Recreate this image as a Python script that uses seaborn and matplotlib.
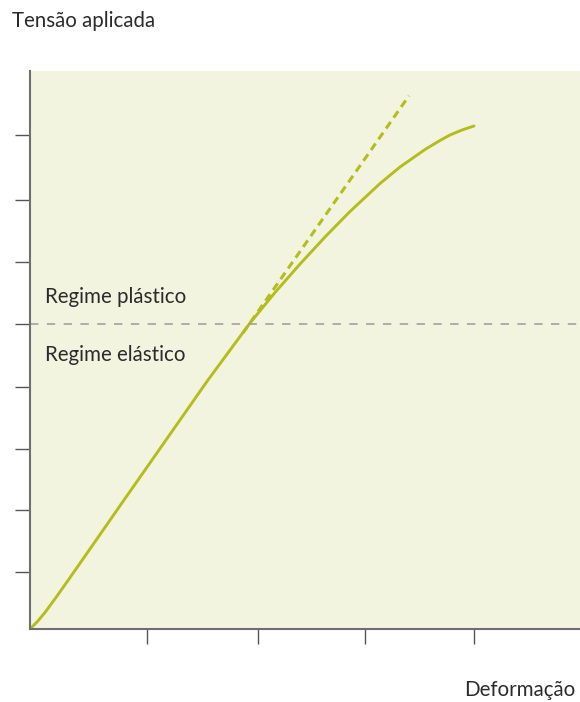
import numpy as np
import pandas as pd
import matplotlib
matplotlib.use('Agg')
import matplotlib.pyplot as plt
import seaborn as sns

# curva tensão x deformação
deform = [0, 0.064, 0.136, 0.236, 0.345, 0.564, 0.845, 1.618, 2.0, 2.227, 2.455,
          2.682, 2.909, 3.182, 3.364, 3.591, 3.727, 3.818, 3.927, 4.036]
tensao = [0, 0.113, 0.266, 0.508, 0.782, 1.339, 2.056, 4.016, 4.935, 5.427, 5.887,
          6.323, 6.734, 7.185, 7.452, 7.734, 7.879, 7.968, 8.048, 8.113]

# prolongamento do regime linear (tracejado)
deform_lin = [1.936, 3.445]
tensao_lin = [4.774, 8.60]

limite_elastico = 4.92
xticks = [1.064, 2.073, 3.045, 4.036]
yticks = [0.92, 1.92, 2.9, 3.9, 4.92, 5.92, 6.92, 7.97]

sns.set_style('white')
plt.rcParams['font.family'] = ['Lato', 'DejaVu Sans']

verde = '#b3bd1c'
fundo = '#f3f4e0'
texto = '#2b2b2b'

fig = plt.figure(figsize=(5.8, 7.02), dpi=100)
ax = fig.add_axes([30 / 580, 73 / 702, 550 / 580, 558 / 702])
ax.set_facecolor(fundo)

df = pd.DataFrame({'Deformação': deform, 'Tensão': tensao})
sns.lineplot(data=df, x='Deformação', y='Tensão', ax=ax, color=verde, lw=2.1,
             sort=False, estimator=None)
ax.lines[-1].set_solid_joinstyle('round')
ax.plot(deform_lin, tensao_lin, color=verde, lw=2.2, dashes=(2.6, 1.7))
ax.axhline(limite_elastico, color='#9a9a9a', lw=1.1, dashes=(5.5, 5.5))

ax.set_xlim(0, 5)
ax.set_ylim(0, 9)
ax.set_xticks(xticks)
ax.set_yticks(yticks)
ax.set_xticklabels([])
ax.set_yticklabels([])
ax.tick_params(axis='both', direction='out', length=10.5, width=1.0,
               color='#555555', left=True, bottom=True)
ax.set_xlabel('')
ax.set_ylabel('')

for s in ['top', 'right']:
    ax.spines[s].set_visible(False)
for s in ['left', 'bottom']:
    ax.spines[s].set_color('#6e6e6e')
    ax.spines[s].set_linewidth(1.5)

ax.text(0.14, 5.355, 'Regime plástico', fontsize=14.8, color=texto, va='center', ha='left')
ax.text(0.14, 4.42, 'Regime elástico', fontsize=14.8, color=texto, va='center', ha='left')

fig.text(12 / 580, 1 - 21 / 702, 'Tensão aplicada', fontsize=14.8, color=texto,
         ha='left', va='center')
fig.text(575 / 580, 1 - 690 / 702, 'Deformação', fontsize=14.8, color=texto,
         ha='right', va='center')

fig.savefig('out.png', dpi=100, facecolor='white')
